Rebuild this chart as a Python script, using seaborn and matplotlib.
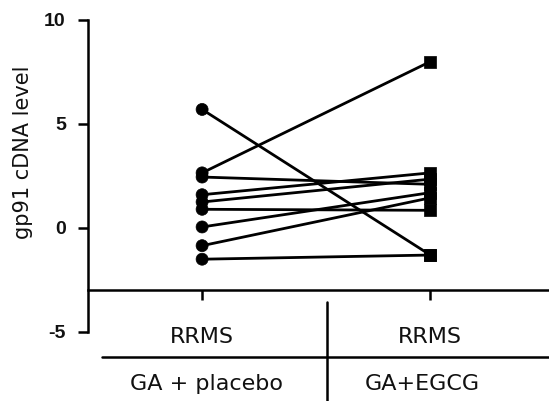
import matplotlib
matplotlib.use("Agg")
import matplotlib.pyplot as plt
import seaborn as sns
import pandas as pd
from matplotlib.lines import Line2D

sns.set_style("white")
plt.rcParams['font.family'] = ['DejaVu Sans']
plt.rcParams['text.color'] = '#111111'
plt.rcParams['axes.labelcolor'] = '#111111'
plt.rcParams['ytick.color'] = 'black'
plt.rcParams['xtick.color'] = 'black'

groups = ["GA + placebo", "GA+EGCG"]
disease = ["RRMS", "RRMS"]
placebo = [5.7, 2.65, 2.45, 1.6, 1.25, 0.9, 0.05, -0.85, -1.5]
egcg = [-1.3, 8.0, 2.1, 2.65, 2.35, 0.85, 1.7, 1.45, -1.3]
yticks = [10, 5, 0, -5]

rows = []
for i, (a, b) in enumerate(zip(placebo, egcg)):
    rows.append({"subject": i, "pos": 0, "group": groups[0], "value": a})
    rows.append({"subject": i, "pos": 1, "group": groups[1], "value": b})
df = pd.DataFrame(rows)

W, H = 549, 401
fig = plt.figure(figsize=(W / 100, H / 100), dpi=100)
ax = fig.add_axes([88 / W, 1 - 332 / H, (W - 88) / W, (332 - 20) / H])

sns.lineplot(data=df, x="pos", y="value", units="subject", estimator=None,
             color="black", linewidth=2.0, ax=ax, legend=False)
sns.scatterplot(data=df, x="pos", y="value", style="group",
                markers={groups[0]: "o", groups[1]: "s"}, color="black",
                s=75, edgecolor="black", linewidth=0.5, ax=ax, legend=False,
                zorder=3, clip_on=False)

ax.set_xlim(-0.5, 1.52)
ax.set_ylim(-5, 10)
ax.set_yticks(yticks)
ax.set_yticklabels([str(t) for t in yticks], fontsize=14, fontweight="bold",
                   family=["Liberation Sans"], color="#111111")
ax.tick_params(axis="y", length=7, width=1.8, pad=9, direction="out", left=True,
               colors="black", labelcolor="#111111")

for s in ["top", "right"]:
    ax.spines[s].set_visible(False)
ax.spines["left"].set_linewidth(1.8)
ax.spines["left"].set_color("black")
ax.spines["bottom"].set_position(("data", -3))
ax.spines["bottom"].set_linewidth(1.8)
ax.spines["bottom"].set_color("black")
ax.set_xticks([0, 1])
ax.set_xticklabels(["", ""])
ax.tick_params(axis="x", length=7, width=1.8, direction="out", bottom=True,
               colors="black")

ax.set_xlabel("")
ax.set_ylabel("gp91 cDNA level", fontsize=15, color="#111111")
ax.yaxis.set_label_coords(-0.119, 0.577)

# category labels (disease row) placed under each tick
for pos, txt in zip([0, 1], disease):
    x_fig = fig.transFigure.inverted().transform(ax.transData.transform((pos, 0)))[0]
    fig.text(x_fig, 1 - 343 / H, txt, ha="center", va="baseline", fontsize=16)

# lower table lines
fig.add_artist(Line2D([102 / W, 1.0], [1 - 357 / H, 1 - 357 / H],
                      color="black", linewidth=1.8))
fig.add_artist(Line2D([327 / W, 327 / W], [1 - 302 / H, 0.0],
                      color="black", linewidth=1.8))
fig.text(207 / W, 1 - 390 / H, groups[0], ha="center", va="baseline", fontsize=16)
fig.text(422 / W, 1 - 390 / H, groups[1], ha="center", va="baseline", fontsize=16)

fig.savefig("out.png", dpi=100)
